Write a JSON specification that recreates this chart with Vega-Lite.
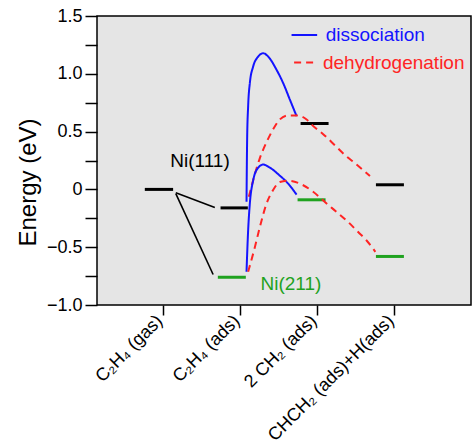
{
  "$schema": "https://vega.github.io/schema/vega-lite/v6.json",
  "width": 374,
  "height": 289,
  "autosize": "none",
  "padding": {"left": 97, "top": 16, "right": 3, "bottom": 139},
  "background": "white",
  "config": {
    "font": "Liberation Sans",
    "view": {"fill": "#e5e5e5", "stroke": "black", "strokeWidth": 1.5}
  },
  "datasets": {
    "levels": [
      {"x1": 0.77, "x2": 1.137, "e": 0, "grp": "111"},
      {"x1": 1.752, "x2": 2.106, "e": -0.16, "grp": "111"},
      {"x1": 1.717, "x2": 2.08, "e": -0.76, "grp": "211"},
      {"x1": 2.79, "x2": 3.153, "e": 0.57, "grp": "111"},
      {"x1": 2.751, "x2": 3.114, "e": -0.09, "grp": "211"},
      {"x1": 3.767, "x2": 4.13, "e": 0.04, "grp": "111"},
      {"x1": 3.767, "x2": 4.13, "e": -0.58, "grp": "211"}
    ],
    "links": [
      {"x1": 1.172, "e1": -0.03, "x2": 1.678, "e2": -0.157},
      {"x1": 1.172, "e1": -0.037, "x2": 1.656, "e2": -0.736}
    ],
    "curves": [
      {"path": "d111", "grp": "dissociation", "i": 0, "x": 2.089, "e": -0.107},
      {"path": "d111", "grp": "dissociation", "i": 1, "x": 2.097, "e": 0.436},
      {"path": "d111", "grp": "dissociation", "i": 2, "x": 2.11, "e": 0.72},
      {"path": "d111", "grp": "dissociation", "i": 3, "x": 2.132, "e": 0.92},
      {"path": "d111", "grp": "dissociation", "i": 4, "x": 2.175, "e": 1.063},
      {"path": "d111", "grp": "dissociation", "i": 5, "x": 2.24, "e": 1.149},
      {"path": "d111", "grp": "dissociation", "i": 6, "x": 2.305, "e": 1.178},
      {"path": "d111", "grp": "dissociation", "i": 7, "x": 2.37, "e": 1.149},
      {"path": "d111", "grp": "dissociation", "i": 8, "x": 2.479, "e": 1.034},
      {"path": "d111", "grp": "dissociation", "i": 9, "x": 2.564, "e": 0.92},
      {"path": "d111", "grp": "dissociation", "i": 10, "x": 2.651, "e": 0.777},
      {"path": "d111", "grp": "dissociation", "i": 11, "x": 2.738, "e": 0.634},
      {"path": "h111", "grp": "dehydrogenation", "i": 0, "x": 2.119, "e": -0.064},
      {"path": "h111", "grp": "dehydrogenation", "i": 1, "x": 2.197, "e": 0.132},
      {"path": "h111", "grp": "dehydrogenation", "i": 2, "x": 2.262, "e": 0.271},
      {"path": "h111", "grp": "dehydrogenation", "i": 3, "x": 2.349, "e": 0.409},
      {"path": "h111", "grp": "dehydrogenation", "i": 4, "x": 2.434, "e": 0.52},
      {"path": "h111", "grp": "dehydrogenation", "i": 5, "x": 2.521, "e": 0.605},
      {"path": "h111", "grp": "dehydrogenation", "i": 6, "x": 2.629, "e": 0.64},
      {"path": "h111", "grp": "dehydrogenation", "i": 7, "x": 2.738, "e": 0.64},
      {"path": "h111", "grp": "dehydrogenation", "i": 8, "x": 2.868, "e": 0.605},
      {"path": "h111", "grp": "dehydrogenation", "i": 9, "x": 2.953, "e": 0.548},
      {"path": "h111", "grp": "dehydrogenation", "i": 10, "x": 3.083, "e": 0.478},
      {"path": "h111", "grp": "dehydrogenation", "i": 11, "x": 3.235, "e": 0.381},
      {"path": "h111", "grp": "dehydrogenation", "i": 12, "x": 3.364, "e": 0.298},
      {"path": "h111", "grp": "dehydrogenation", "i": 13, "x": 3.516, "e": 0.215},
      {"path": "h111", "grp": "dehydrogenation", "i": 14, "x": 3.69, "e": 0.115},
      {"path": "d211", "grp": "dissociation", "i": 0, "x": 2.089, "e": -0.712},
      {"path": "d211", "grp": "dissociation", "i": 1, "x": 2.11, "e": -0.354},
      {"path": "d211", "grp": "dissociation", "i": 2, "x": 2.132, "e": -0.122},
      {"path": "d211", "grp": "dissociation", "i": 3, "x": 2.175, "e": 0.078},
      {"path": "d211", "grp": "dissociation", "i": 4, "x": 2.24, "e": 0.188},
      {"path": "d211", "grp": "dissociation", "i": 5, "x": 2.305, "e": 0.215},
      {"path": "d211", "grp": "dissociation", "i": 6, "x": 2.392, "e": 0.188},
      {"path": "d211", "grp": "dissociation", "i": 7, "x": 2.521, "e": 0.119},
      {"path": "d211", "grp": "dissociation", "i": 8, "x": 2.629, "e": 0.05},
      {"path": "d211", "grp": "dissociation", "i": 9, "x": 2.738, "e": -0.045},
      {"path": "h211", "grp": "dehydrogenation", "i": 0, "x": 2.11, "e": -0.712},
      {"path": "h211", "grp": "dehydrogenation", "i": 1, "x": 2.197, "e": -0.5},
      {"path": "h211", "grp": "dehydrogenation", "i": 2, "x": 2.262, "e": -0.325},
      {"path": "h211", "grp": "dehydrogenation", "i": 3, "x": 2.349, "e": -0.122},
      {"path": "h211", "grp": "dehydrogenation", "i": 4, "x": 2.434, "e": -0.005},
      {"path": "h211", "grp": "dehydrogenation", "i": 5, "x": 2.521, "e": 0.064},
      {"path": "h211", "grp": "dehydrogenation", "i": 6, "x": 2.63, "e": 0.075},
      {"path": "h211", "grp": "dehydrogenation", "i": 7, "x": 2.824, "e": 0.036},
      {"path": "h211", "grp": "dehydrogenation", "i": 8, "x": 2.953, "e": -0.02},
      {"path": "h211", "grp": "dehydrogenation", "i": 9, "x": 3.127, "e": -0.122},
      {"path": "h211", "grp": "dehydrogenation", "i": 10, "x": 3.257, "e": -0.195},
      {"path": "h211", "grp": "dehydrogenation", "i": 11, "x": 3.407, "e": -0.282},
      {"path": "h211", "grp": "dehydrogenation", "i": 12, "x": 3.537, "e": -0.369},
      {"path": "h211", "grp": "dehydrogenation", "i": 13, "x": 3.646, "e": -0.442},
      {"path": "h211", "grp": "dehydrogenation", "i": 14, "x": 3.76, "e": -0.54}
    ],
    "legend": [
      {"grp": "dissociation", "x1": 2.673, "x2": 3.005, "e": 1.336},
      {"grp": "dehydrogenation", "x1": 2.706, "x2": 3.005, "e": 1.097}
    ],
    "labels": [
      {"grp": "111", "label": "Ni(111)", "x": 1.1, "e": 0.246},
      {"grp": "211", "label": "Ni(211)", "x": 2.27, "e": -0.818},
      {"grp": "dissociation", "label": "dissociation", "x": 3.115, "e": 1.336},
      {"grp": "dehydrogenation", "label": "dehydrogenation", "x": 3.08, "e": 1.097}
    ]
  },
  "layer": [
    {
      "data": {"name": "levels"},
      "mark": {"type": "rule", "strokeWidth": 3},
      "encoding": {
        "x": {
          "field": "x1", "type": "quantitative",
          "scale": {"domain": [0.15, 5.0], "nice": false, "zero": false},
          "axis": {
            "title": null,
            "values": [1, 2, 3, 4],
            "labelExpr": "datum.value === 1 ? 'C₂H₄ (gas)' : datum.value === 2 ? 'C₂H₄ (ads)' : datum.value === 3 ? '2 CH₂ (ads)' : 'CHCH₂ (ads)+H(ads)'",
            "labelAngle": -45,
            "labelAlign": "right",
            "labelBaseline": "middle",
            "labelPadding": 3,
            "labelOffset": -3,
            "labelOverlap": false,
            "labelFontSize": 18,
            "labelColor": "black",
            "tickSize": 10,
            "tickWidth": 1.5,
            "tickColor": "black",
            "domain": false,
            "grid": false
          }
        },
        "x2": {"field": "x2"},
        "y": {
          "field": "e", "type": "quantitative",
          "scale": {"domain": [-1, 1.5], "nice": false, "zero": false},
          "axis": {
            "title": "Energy (eV)",
            "values": [-1, -0.75, -0.5, -0.25, 0, 0.25, 0.5, 0.75, 1, 1.25, 1.5],
            "tickCount": 20,
            "labelExpr": "datum.value % 0.5 === 0 ? (datum.value === 0 ? '0' : format(datum.value, '.1f')) : ''",
            "labelOverlap": false,
            "tickSize": 12,
            "tickWidth": 1.5,
            "tickColor": "black",
            "encode": {
              "ticks": {"update": {"x2": {"signal": "datum.value % 0.5 === 0 ? -12 : -8"}}}
            },
            "labelFontSize": 18,
            "labelColor": "black",
            "labelPadding": 3,
            "domain": false,
            "grid": false,
            "titleFontSize": 24,
            "titleFontWeight": "normal",
            "titleColor": "black",
            "titleX": -62,
            "titleY": 166,
            "titleBaseline": "alphabetic"
          }
        },
        "color": {
          "field": "grp", "type": "nominal", "legend": null,
          "scale": {"domain": ["dissociation", "dehydrogenation", "111", "211"], "range": ["#1414ff", "#ff2424", "black", "#1fa21f"]}
        }
      }
    },
    {
      "data": {"name": "links"},
      "mark": {"type": "rule", "strokeWidth": 1.6, "color": "black"},
      "encoding": {
        "x": {"field": "x1", "type": "quantitative", "title": null},
        "x2": {"field": "x2"},
        "y": {"field": "e1", "type": "quantitative", "title": "Energy (eV)"},
        "y2": {"field": "e2"}
      }
    },
    {
      "data": {"name": "curves"},
      "mark": {"type": "line", "strokeWidth": 2, "interpolate": "monotone"},
      "encoding": {
        "x": {"field": "x", "type": "quantitative", "title": null},
        "y": {"field": "e", "type": "quantitative", "title": "Energy (eV)"},
        "detail": {"field": "path"},
        "order": {"field": "i", "type": "quantitative"},
        "color": {
          "field": "grp", "type": "nominal", "legend": null,
          "scale": {"domain": ["dissociation", "dehydrogenation", "111", "211"], "range": ["#1414ff", "#ff2424", "black", "#1fa21f"]}
        },
        "strokeDash": {
          "field": "grp", "type": "nominal", "legend": null,
          "scale": {"domain": ["dissociation", "dehydrogenation"], "range": [[1, 0], [7, 5]]}
        }
      }
    },
    {
      "data": {"name": "legend"},
      "mark": {"type": "rule", "strokeWidth": 2},
      "encoding": {
        "x": {"field": "x1", "type": "quantitative", "title": null},
        "x2": {"field": "x2"},
        "y": {"field": "e", "type": "quantitative", "title": "Energy (eV)"},
        "color": {
          "field": "grp", "type": "nominal", "legend": null,
          "scale": {"domain": ["dissociation", "dehydrogenation", "111", "211"], "range": ["#1414ff", "#ff2424", "black", "#1fa21f"]}
        },
        "strokeDash": {
          "field": "grp", "type": "nominal", "legend": null,
          "scale": {"domain": ["dissociation", "dehydrogenation"], "range": [[1, 0], [7, 5]]}
        }
      }
    },
    {
      "data": {"name": "labels"},
      "mark": {"type": "text", "align": "left", "baseline": "middle", "fontSize": 19},
      "encoding": {
        "x": {"field": "x", "type": "quantitative", "title": null},
        "y": {"field": "e", "type": "quantitative", "title": "Energy (eV)"},
        "text": {"field": "label"},
        "color": {
          "field": "grp", "type": "nominal", "legend": null,
          "scale": {"domain": ["dissociation", "dehydrogenation", "111", "211"], "range": ["#1414ff", "#ff2424", "black", "#1fa21f"]}
        }
      }
    }
  ]
}
